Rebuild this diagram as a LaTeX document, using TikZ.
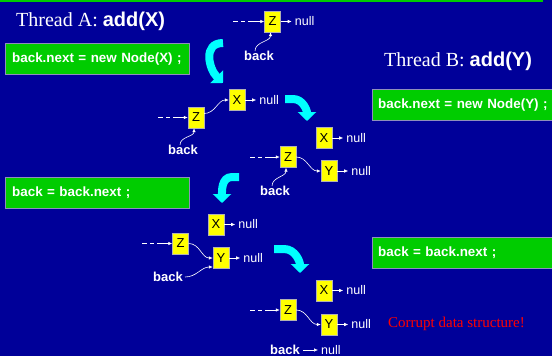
\documentclass[tikz,border=0pt]{standalone}
\usepackage{fontspec}
\setmainfont{Liberation Serif}
\setsansfont{Liberation Sans}
\usetikzlibrary{positioning, arrows.meta}
\tikzset{>=latex}
\definecolor{slide}{RGB}{0,0,153}
\definecolor{codegreen}{RGB}{0,204,0}
\definecolor{cellyellow}{RGB}{255,255,0}
\definecolor{turncyan}{RGB}{0,255,255}
\newcommand{\tonull}[2]{
   \node[nulltext, right=14pt of #1] (#2) {null};
   \draw[ptr, shorten >=3pt] (#1) -- (#2);
}
\tikzset{
  cell/.style = {draw=gray!60, fill=cellyellow, minimum width=16pt, minimum height=21pt, inner sep=0pt, font=\sffamily\fontsize{13}{13}\selectfont},
  nulltext/.style = {text=white, inner sep=0pt, font=\sffamily\fontsize{12.5}{13}\selectfont},
  backtext/.style = {text=white, inner sep=0pt, font=\sffamily\bfseries\fontsize{13}{13}\selectfont},
  titletext/.style = {text=white, anchor=base west, inner sep=0pt, font=\rmfamily\fontsize{20}{24}\selectfont},
  codebox/.style = {draw=blue!25!gray!70, fill=codegreen, text=white, anchor=west, minimum height=31pt, text width=170pt, inner xsep=7pt, align=left, font=\sffamily\bfseries\fontsize{13.4}{14}\selectfont},
  ptr/.style = {white, line width=0.6pt, -{Latex[length=4pt,width=3.5pt]}},
  incoming/.style = {ptr, dash pattern=on 5pt off 3pt on 4pt off 3pt on 40pt},
  turn/.style = {turncyan, line width=8pt, -{Triangle[length=9pt,width=18pt]}}
}

\begin{document}
\begin{tikzpicture}[x=1pt, y=-1pt]
		% Slide
		\fill[slide] (0,0) rectangle (552,356);
		\useasboundingbox (0,0) rectangle (552,356);
		\fill[codegreen] (0,0) rectangle (543,2);

		% Titles
		\node[titletext] (titleA) at (16,27) {Thread A: {\sffamily\bfseries add(X)}};
		\node[titletext] (titleB) at (384,66) {Thread B: {\sffamily\bfseries add(Y)}};

		% Code
		\node[codebox] (codeA1) at (5,59) {back.next = new Node(X) ;};
		\node[codebox, text width=176pt, inner xsep=6pt] (codeB1) at (372,105) {back.next = new Node(Y) ;};
		\node[codebox] (codeA2) at (5,192.5) {back = back.next ;};
		\node[codebox, text width=176pt, inner xsep=6pt] (codeB2) at (372,252.5) {back = back.next ;};

		% List at start
		\node[cell] (z0) at (272.5,21.5) {Z};
		\tonull{z0}{null0}
		\coordinate (in0) at (233,21.5);
		\draw[incoming] (in0) -- (z0);
		\node[backtext] (back0) at (259,56) {back};
		\draw[ptr] ([xshift=-4pt]back0.north) to[out=90,in=-90] ([xshift=-2pt]z0.south);

		% After A: back.next = new Node(X)
		\node[cell] (x1) at (237,100) {X};
		\tonull{x1}{nullx1}
		\node[cell] (z1) at (196,117.5) {Z};
		\coordinate (in1) at (158,117.5);
		\draw[incoming] (in1) -- (z1);
		\draw[ptr] ([yshift=4pt]z1.east) to[out=0,in=180] (x1.west);
		\node[backtext] (back1) at (183,150) {back};
		\draw[ptr] ([xshift=-3pt]back1.north) to[out=90,in=-90] ([xshift=-2pt]z1.south);

		% After B: back.next = new Node(Y)
		\node[cell] (x2) at (324,138) {X};
		\tonull{x2}{nullx2}
		\node[cell] (z2) at (288,157) {Z};
		\node[cell] (y2) at (329,171) {Y};
		\tonull{y2}{nully2}
		\coordinate (in2) at (250,157);
		\draw[incoming] (in2) -- (z2);
		\draw[ptr] (z2.east) to[out=0,in=180] (y2.west);
		\node[backtext] (back2) at (275,191) {back};
		\draw[ptr] ([xshift=-3pt]back2.north) to[out=90,in=-90] ([xshift=-2pt]z2.south);

		% After A: back = back.next
		\node[cell] (x3) at (216,224.5) {X};
		\tonull{x3}{nullx3}
		\node[cell] (z3) at (180.5,243.5) {Z};
		\node[cell] (y3) at (221,258) {Y};
		\tonull{y3}{nully3}
		\coordinate (in3) at (142,243.5);
		\draw[incoming] (in3) -- (z3);
		\draw[ptr] (z3.east) to[out=0,in=180] (y3.west);
		\node[backtext] (back3) at (168,277) {back};
		\draw[ptr] ([xshift=2pt]back3.east) to[out=0,in=180] ([yshift=-9pt]y3.west);

		% After B: back = back.next
		\node[cell] (x4) at (324,290.5) {X};
		\tonull{x4}{nullx4}
		\node[cell] (z4) at (288,310) {Z};
		\node[cell] (y4) at (329,324.5) {Y};
		\tonull{y4}{nully4}
		\coordinate (in4) at (250,310);
		\draw[incoming] (in4) -- (z4);
		\draw[ptr] (z4.east) to[out=0,in=180] (y4.west);
		\node[backtext] (back4) at (285,350) {back};
		\node[nulltext, right=21pt of back4] (nullb4) {null};
		\draw[ptr, shorten <=3pt, shorten >=3pt] (back4) -- (nullb4);
		\node[titletext, text=red, font=\rmfamily\fontsize{15}{18}\selectfont] (corrupt) at (388,327) {Corrupt data structure!};

		% Turns
		\draw[turn] (223,43) to[out=180,in=135, looseness=1.3] (223,83);
		\draw[turn] (285,99) -- (293,99) to[out=0,in=90] (307,121);
		\draw[turn] (239,177) -- (232,177) to[out=180,in=90] (222,203);
		\draw[turn] (274,249) -- (284,249) to[out=0,in=90] (300,273);
	\end{tikzpicture}
\end{document}
